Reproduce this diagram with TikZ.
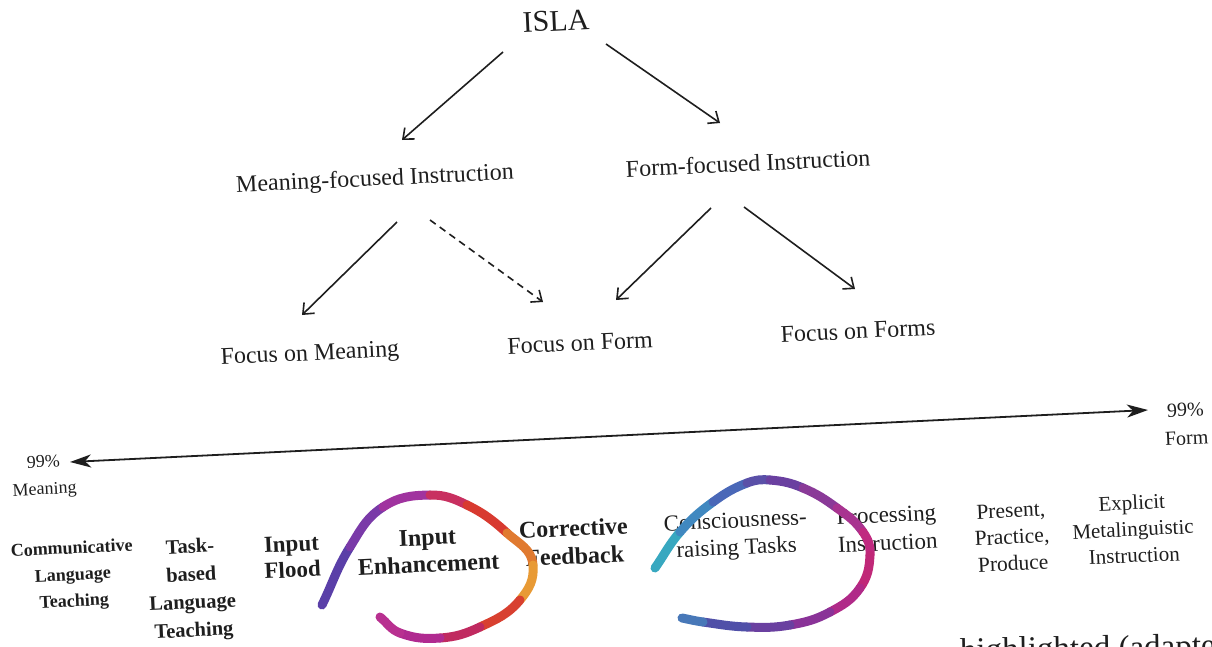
\documentclass[tikz,border=0pt]{standalone}
\usepackage{fontspec}
\setmainfont{Liberation Serif}
\usetikzlibrary{arrows.meta,calc}
\definecolor{ink}{HTML}{1E1E1E}
\definecolor{la}{HTML}{5A3FA8}\definecolor{lb}{HTML}{7A3AA8}\definecolor{lc}{HTML}{A0339F}
\definecolor{ld}{HTML}{C83060}\definecolor{le}{HTML}{D83A30}\definecolor{lf}{HTML}{E07A30}
\definecolor{lg}{HTML}{E89A35}\definecolor{lh}{HTML}{D84030}\definecolor{li}{HTML}{C02A60}
\definecolor{lj}{HTML}{B02A90}\definecolor{lk}{HTML}{B83090}
\definecolor{ma}{HTML}{38A8C0}\definecolor{mb}{HTML}{4088C0}\definecolor{mc}{HTML}{4A68B8}
\definecolor{md}{HTML}{5A50A8}\definecolor{me}{HTML}{6A40A0}\definecolor{mf}{HTML}{8A3A98}
\definecolor{mg}{HTML}{A83390}\definecolor{mh}{HTML}{C02A80}\definecolor{mi}{HTML}{C02878}
\definecolor{mj}{HTML}{B02A88}\definecolor{mk}{HTML}{8A3398}\definecolor{ml}{HTML}{6A40A0}
\definecolor{mm}{HTML}{5050A8}\definecolor{mn}{HTML}{4878B8}
\begin{document}
\begin{tikzpicture}[x=1pt,y=1pt,
  lbl/.style={inner sep=0pt, align=center, rotate=2.7, text=ink},
  reg/.style={lbl, font=\fontsize{24}{28}\selectfont},
  arr/.style={draw=ink, line width=1.6pt, -{Straight Barb[length=9pt,width=15pt,line width=1.6pt]}},
  dasharr/.style={arr, dash pattern=on 7pt off 5pt},
  axis/.style={draw=ink, line width=1.8pt, {Stealth[length=21pt,width=13pt,inset=6pt]}-{Stealth[length=21pt,width=13pt,inset=6pt]}},
  loopseg/.style={line width=9pt, line cap=round, draw=#1}
]
\useasboundingbox (0,0) rectangle (1212,-646);
\clip (0,0) rectangle (1212,-646);

% ---- tree ----
\node[lbl, font=\fontsize{30}{34}\selectfont] (isla) at (556,-21) {ISLA};
\node[reg] (mfi) at (375,-180) {Meaning-focused Instruction};
\node[reg] (ffi) at (748,-163) {Form-focused Instruction};
\node[reg] (fom) at (310,-355) {Focus on Meaning};
\node[reg] (fof) at (580,-343) {Focus on Form};
\node[reg] (fofs) at (858,-331) {Focus on Forms};

\draw[arr] ([shift={(-53,-31)}]isla.center) -- ([shift={(27,40)}]mfi.center);
\draw[arr] ([shift={(50,-23)}]isla.center) -- ([shift={(-28,40)}]ffi.center);
\draw[arr] ([shift={(22,-42)}]mfi.center) -- ([shift={(-8,40)}]fom.center);
\draw[dasharr] ([shift={(55,-40)}]mfi.center) -- ([shift={(-37,41)}]fof.center);
\draw[arr] ([shift={(-37,-45)}]ffi.center) -- ([shift={(36,43)}]fof.center);
\draw[arr] ([shift={(-4,-44)}]ffi.center) -- ([shift={(-3,42)}]fofs.center);

% ---- axis ----
\node[lbl, font=\fontsize{18}{27}\selectfont] (lm) at (44,-477) {99\%\\Meaning};
\node[lbl, font=\fontsize{20}{28}\selectfont] (rf) at (1186,-424) {99\%\\Form};
\draw[axis] ([shift={(26,15)}]lm.center) -- ([shift={(-38,14)}]rf.center);

% ---- continuum labels ----
\node[lbl, font=\bfseries\fontsize{18}{26.5}\selectfont] (clt) at (73,-576) {Communicative\\Language\\Teaching};
\node[lbl, font=\bfseries\fontsize{20.5}{28}\selectfont] (tblt) at (192,-590) {Task-\\based\\Language\\Teaching};
\node[lbl, font=\bfseries\fontsize{23}{26}\selectfont] (iflood) at (292,-557) {Input\\Flood};
\node[lbl, font=\bfseries\fontsize{24}{27}\selectfont] (ienh) at (428,-551) {Input\\Enhancement};
\node[lbl, font=\bfseries\fontsize{24}{28}\selectfont] (cfb) at (574,-542) {Corrective\\Feedback};
\node[lbl, font=\fontsize{23}{27}\selectfont] (crt) at (736,-536) {Consciousness-\\raising Tasks};
\node[lbl, font=\fontsize{23}{28}\selectfont] (pin) at (887,-529) {Processing\\Instruction};
\node[lbl, font=\fontsize{21.5}{26.5}\selectfont] (ppp) at (1012,-537) {Present,\\Practice,\\Produce};
\node[lbl, font=\fontsize{21}{26.5}\selectfont] (emi) at (1133,-529) {Explicit\\Metalinguistic\\Instruction};

% ---- caption fragment (cut by the page edge, as in the reference) ----
\node[anchor=base west, inner sep=0pt, font=\fontsize{33}{36}\selectfont, text=ink, rotate=1] (cap) at (960,-661) {highlighted (adapte};

% ---- loop 1 ----
\draw[loopseg=la] (322,-605) to[out=64,in=238] (350,-547);
\draw[loopseg=lb] (350,-547) to[out=58,in=213] (383,-507);
\draw[loopseg=lc] (383,-507) to[out=33,in=181] (430,-495);
\draw[loopseg=ld] (430,-495) to[out=1,in=154] (467,-505);
\draw[loopseg=le] (467,-505) to[out=-26,in=138] (507,-533);
\draw[loopseg=lf] (507,-533) to[out=-42,in=95] (533,-565);
\draw[loopseg=lg] (533,-565) to[out=-85,in=50] (520,-600);
\draw[loopseg=lh] (520,-600) to[out=-130,in=25] (480,-627);
\draw[loopseg=li] (480,-627) to[out=-155,in=4] (440,-638);
\draw[loopseg=lj] (440,-638) to[out=-176,in=-20] (400,-633);
\draw[loopseg=lk] (400,-633) to[out=160,in=-39] (380,-617);

% ---- loop 2 ----
\draw[loopseg=ma] (655,-568) to[out=55,in=229] (680,-532);
\draw[loopseg=mb] (680,-532) to[out=49,in=216] (713,-502);
\draw[loopseg=mc] (713,-502) to[out=36,in=201] (747,-483);
\draw[loopseg=md] (747,-483) to[out=21,in=175] (770,-480);
\draw[loopseg=me] (770,-480) to[out=-5,in=157] (803,-488);
\draw[loopseg=mf] (803,-488) to[out=-23,in=144] (837,-508);
\draw[loopseg=mg] (837,-508) to[out=-36,in=125] (863,-532);
\draw[loopseg=mh] (863,-532) to[out=-55,in=87] (870,-555);
\draw[loopseg=mi] (870,-555) to[out=-93,in=55] (860,-588);
\draw[loopseg=mj] (860,-588) to[out=-125,in=28] (830,-612);
\draw[loopseg=mk] (830,-612) to[out=-152,in=10] (790,-625);
\draw[loopseg=ml] (790,-625) to[out=-170,in=-2] (747,-627);
\draw[loopseg=mm] (747,-627) to[out=178,in=-8] (703,-622);
\draw[loopseg=mn] (703,-622) to[out=172,in=-11] (682,-618);
\end{tikzpicture}
\end{document}
